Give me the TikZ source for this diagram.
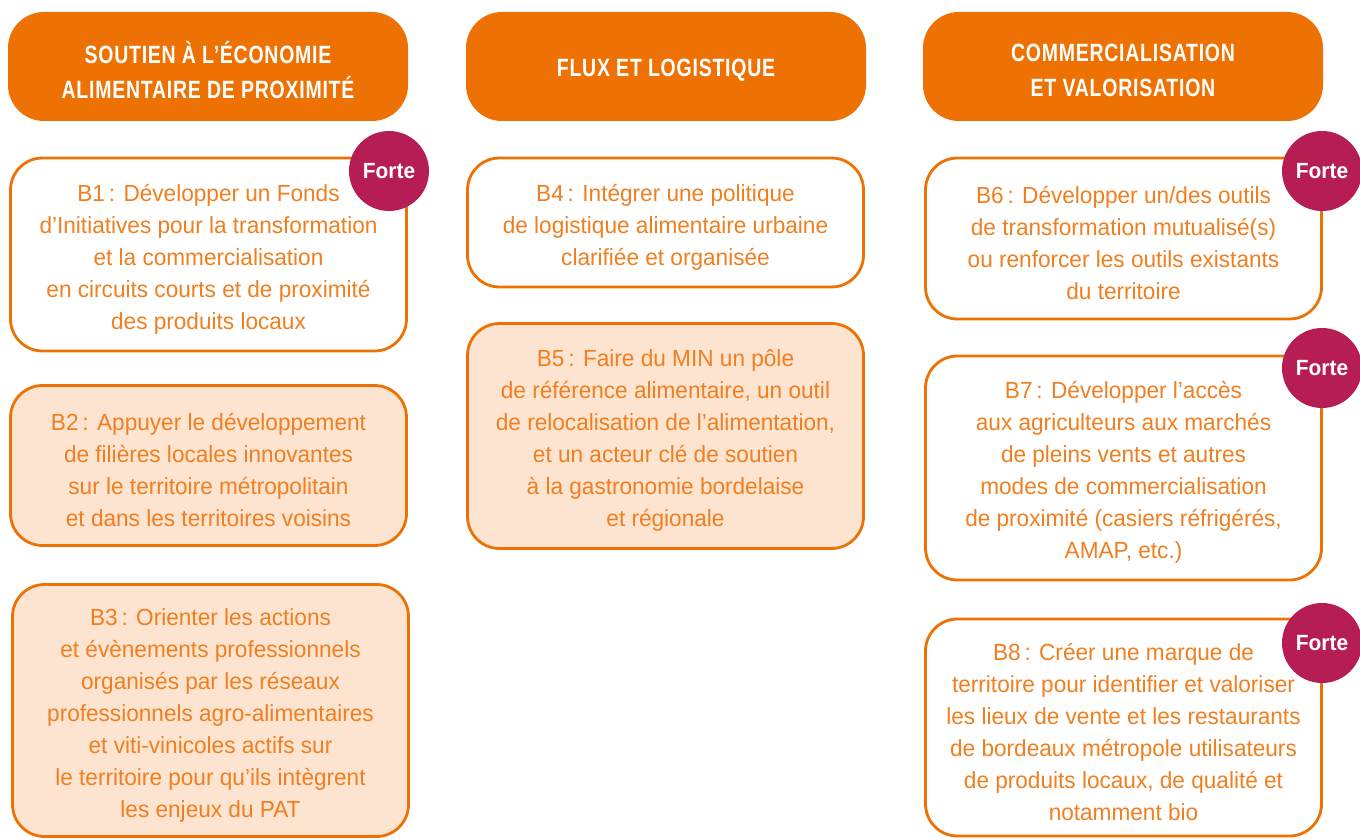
\documentclass[tikz,border=0pt]{standalone}
\usepackage{fontspec}
\setmainfont{Liberation Sans}[FakeStretch=0.97]
\newfontfamily\headfont[FakeStretch=0.78,LetterSpace=3.0]{Liberation Sans}
\newfontfamily\badgefont[FakeStretch=0.95]{Liberation Sans}
\definecolor{pat}{HTML}{EE7203}
\definecolor{pattext}{HTML}{F07F1F}
\definecolor{peach}{HTML}{FCE4D1}
\definecolor{forte}{HTML}{B71D55}
\tikzset{
  header/.style={fill=pat, draw=none, rounded corners=36pt, minimum width=400pt,
    minimum height=109pt},
  headtext/.style={align=center, text=white, inner sep=0pt, yshift=-3.5pt,
    font=\headfont\bfseries\fontsize{25}{35}\selectfont},
  action/.style={draw=pat, line width=2.8pt, rounded corners=32pt, minimum width=396pt},
  plain/.style={action, fill=white},
  tinted/.style={action, fill=peach},
  actiontext/.style={align=center, text=pattext, inner sep=0pt, yshift=-4.5pt,
    font=\fontsize{23.3}{32}\selectfont},
  badge/.style={circle, fill=forte, minimum size=80pt, inner sep=0pt, text=white,
    font=\badgefont\bfseries\fontsize{22}{24}\selectfont}
}
\begin{document}
\begin{tikzpicture}[x=1pt, y=-1pt]
\useasboundingbox (0,0) rectangle (1360,840);

% column headers
\node[header] (h1) at (208,66.5) {};
\node[header] (h2) at (666,66.5) {};
\node[header] (h3) at (1123,66.5) {};
\node[headtext] (h1t) at (h1.center) {SOUTIEN À L’ÉCONOMIE\\ALIMENTAIRE DE PROXIMITÉ};
\node[headtext] (h2t) at (h2.center) {FLUX ET LOGISTIQUE};
\node[headtext] (h3t) at (h3.center) {COMMERCIALISATION\\ET VALORISATION};

% column 1
\node[plain, minimum height=193pt] (b1) at (208.5,254.5) {};
\node[actiontext] (b1t) at (b1.center)
  {B1\,: Développer un Fonds\\d’Initiatives pour la transformation\\et la commercialisation\\en circuits courts et de proximité\\des produits locaux};
\node[tinted, minimum height=160pt] (b2) at (208.5,465.5) {};
\node[actiontext] (b2t) at (b2.center)
  {B2\,: Appuyer le développement\\de filières locales innovantes\\sur le territoire métropolitain\\et dans les territoires voisins};
\node[tinted, minimum height=252pt] (b3) at (210.5,710.5) {};
\node[actiontext] (b3t) at (b3.center)
  {B3\,: Orienter les actions\\et évènements professionnels\\organisés par les réseaux\\professionnels agro-alimentaires\\et viti-vinicoles actifs sur\\le territoire pour qu’ils intègrent\\les enjeux du PAT};

% column 2
\node[plain, minimum height=129pt] (b4) at (665.5,222.5) {};
\node[actiontext] (b4t) at (b4.center)
  {B4\,: Intégrer une politique\\de logistique alimentaire urbaine\\clarifiée et organisée};
\node[tinted, minimum height=225pt] (b5) at (665.5,436) {};
\node[actiontext] (b5t) at (b5.center)
  {B5\,: Faire du MIN un pôle\\de référence alimentaire, un outil\\de relocalisation de l’alimentation,\\et un acteur clé de soutien\\à la gastronomie bordelaise\\et régionale};

% column 3
\node[plain, minimum height=161pt] (b6) at (1123.5,238.5) {};
\node[actiontext] (b6t) at (b6.center)
  {B6\,: Développer un/des outils\\de transformation mutualisé(s)\\ou renforcer les outils existants\\du territoire};
\node[plain, minimum height=224pt] (b7) at (1123.5,468) {};
\node[actiontext] (b7t) at (b7.center)
  {B7\,: Développer l’accès\\aux agriculteurs aux marchés\\de pleins vents et autres\\modes de commercialisation\\de proximité (casiers réfrigérés,\\AMAP, etc.)};
\node[plain, minimum height=217pt] (b8) at (1123.5,727.5) {};
\node[actiontext] (b8t) at (b8.center)
  {B8\,: Créer une marque de\\territoire pour identifier et valoriser\\les lieux de vente et les restaurants\\de bordeaux métropole utilisateurs\\de produits locaux, de qualité et\\notamment bio};

% priority badges
\node[badge] (f1) at (389,171) {Forte};
\node[badge] (f6) at (1322,171) {Forte};
\node[badge] (f7) at (1322,368) {Forte};
\node[badge] (f8) at (1322,643) {Forte};
\end{tikzpicture}
\end{document}
